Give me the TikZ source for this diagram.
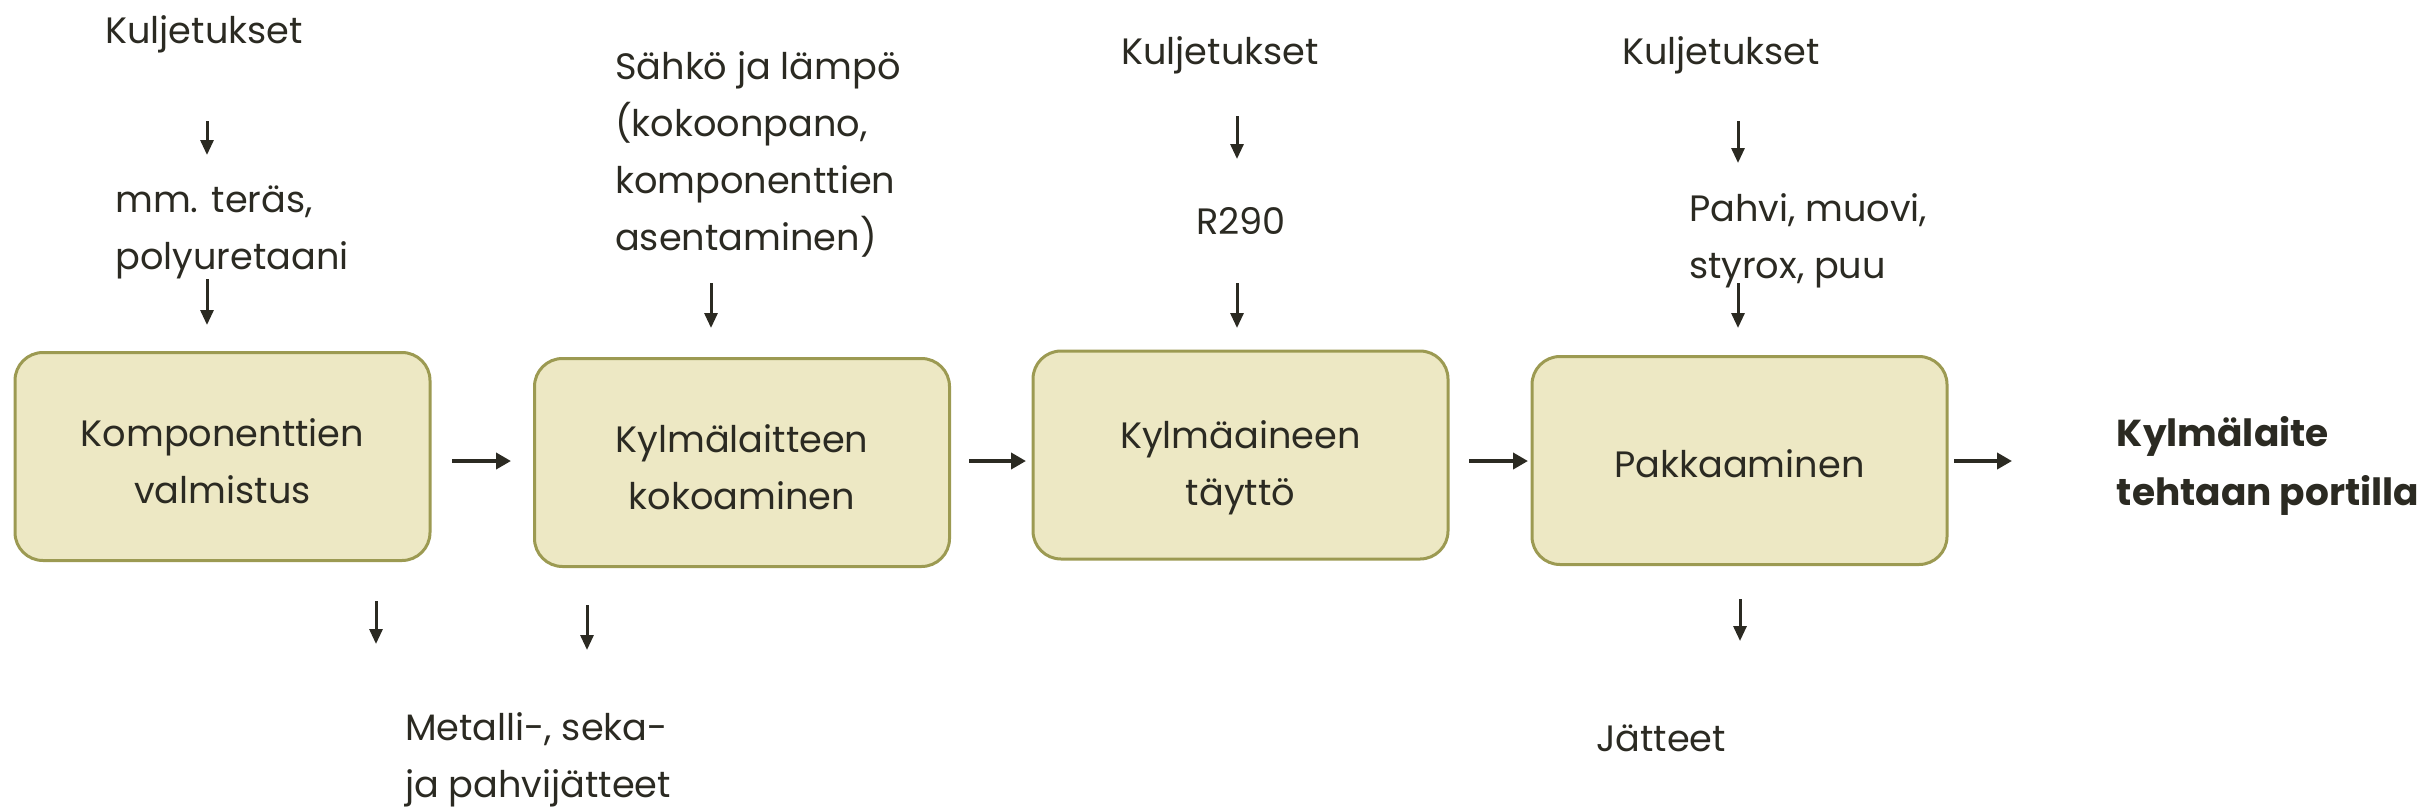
\documentclass[tikz,border=0pt]{standalone}
\usepackage{fontspec}
\setmainfont{Poppins}
\usetikzlibrary{arrows.meta}
\definecolor{boxfill}{HTML}{EDE8C4}
\definecolor{boxline}{HTML}{9C9A52}
\definecolor{ink}{HTML}{2B2A22}
\newcommand{\boxtext}[2]{\raisebox{-#1pt}[\height][\depth]{\begin{tabular}{@{}c@{}}#2\end{tabular}}}
\begin{document}
\begin{tikzpicture}[x=1pt,y=-1pt,
  txt/.style={font=\fontsize{36.7}{57}\selectfont, text=ink, inner sep=0pt},
  proc/.style={txt, draw=boxline, fill=boxfill, line width=3pt, rounded corners=28pt,
    minimum width=415pt, minimum height=208pt, align=center},
  lbl/.style={txt, align=left},
  bold/.style={font=\fontsize{37.5}{59}\selectfont\bfseries, text=ink, inner sep=0pt, align=left},
  hflow/.style={draw=ink, line width=4pt, -{Triangle[length=15pt,width=16pt]}},
  vflow/.style={draw=ink, line width=3pt, -{Triangle[length=15pt,width=13pt]}}]
\useasboundingbox (0,0) rectangle (2427,809);
% process boxes
\node[proc] (b1) at (222.5,456.5) {\boxtext{7}{Komponenttien\\valmistus}};
\node[proc] (b2) at (742,462.5) {\boxtext{7}{Kylmälaitteen\\kokoaminen}};
\node[proc] (b3) at (1240.5,455) {\boxtext{11}{Kylmäaineen\\täyttö}};
\node[proc] (b4) at (1739.5,460.5) {\boxtext{6}{Pakkaaminen}};
% labels
\node[lbl] (k1) at (204,34) {Kuljetukset};
\node[lbl] (m1) at (232,232) {mm. teräs,\\polyuretaani};
\node[lbl] (s2) at (758,154) {Sähkö ja lämpö\\(kokoonpano,\\komponenttien\\asentaminen)};
\node[lbl] (k3) at (1220,55) {Kuljetukset};
\node[lbl] (r3) at (1241,221) {R290};
\node[lbl] (k4) at (1721,55) {Kuljetukset};
\node[lbl] (p4) at (1808,241) {Pahvi, muovi,\\styrox, puu};
\node[lbl] (w1) at (538,760) {Metalli-, seka-\\ja pahvijätteet};
\node[lbl] (w4) at (1661,738) {Jätteet};
\node[bold] (out) at (2268,466) {Kylmälaite\\tehtaan portilla};
% arrow end points
\coordinate (h1s) at (452,461); \coordinate (h1e) at (511,461);
\coordinate (h2s) at (969,461); \coordinate (h2e) at (1026,461);
\coordinate (h3s) at (1469,461); \coordinate (h3e) at (1528,461);
\coordinate (h4s) at (1954,461); \coordinate (h4e) at (2012,461);
\coordinate (va1s) at (207,121); \coordinate (va1e) at (207,155);
\coordinate (vb1s) at (207,279); \coordinate (vb1e) at (207,325);
\coordinate (vb2s) at (711,283); \coordinate (vb2e) at (711,328);
\coordinate (va3s) at (1237,116); \coordinate (va3e) at (1237,159);
\coordinate (vb3s) at (1237,283); \coordinate (vb3e) at (1237,328);
\coordinate (va4s) at (1738,121); \coordinate (va4e) at (1738,163);
\coordinate (vb4s) at (1738,283); \coordinate (vb4e) at (1738,328);
\coordinate (vc1s) at (376,601); \coordinate (vc1e) at (376,644);
\coordinate (vc2s) at (587,605); \coordinate (vc2e) at (587,650);
\coordinate (vc4s) at (1740,599); \coordinate (vc4e) at (1740,641);
% arrows
\draw[hflow] (h1s) -- (h1e);
\draw[hflow] (h2s) -- (h2e);
\draw[hflow] (h3s) -- (h3e);
\draw[hflow] (h4s) -- (h4e);
\draw[vflow] (va1s) -- (va1e);
\draw[vflow] (vb1s) -- (vb1e);
\draw[vflow] (vb2s) -- (vb2e);
\draw[vflow] (va3s) -- (va3e);
\draw[vflow] (vb3s) -- (vb3e);
\draw[vflow] (va4s) -- (va4e);
\draw[vflow] (vb4s) -- (vb4e);
\draw[vflow] (vc1s) -- (vc1e);
\draw[vflow] (vc2s) -- (vc2e);
\draw[vflow] (vc4s) -- (vc4e);
\end{tikzpicture}
\end{document}
